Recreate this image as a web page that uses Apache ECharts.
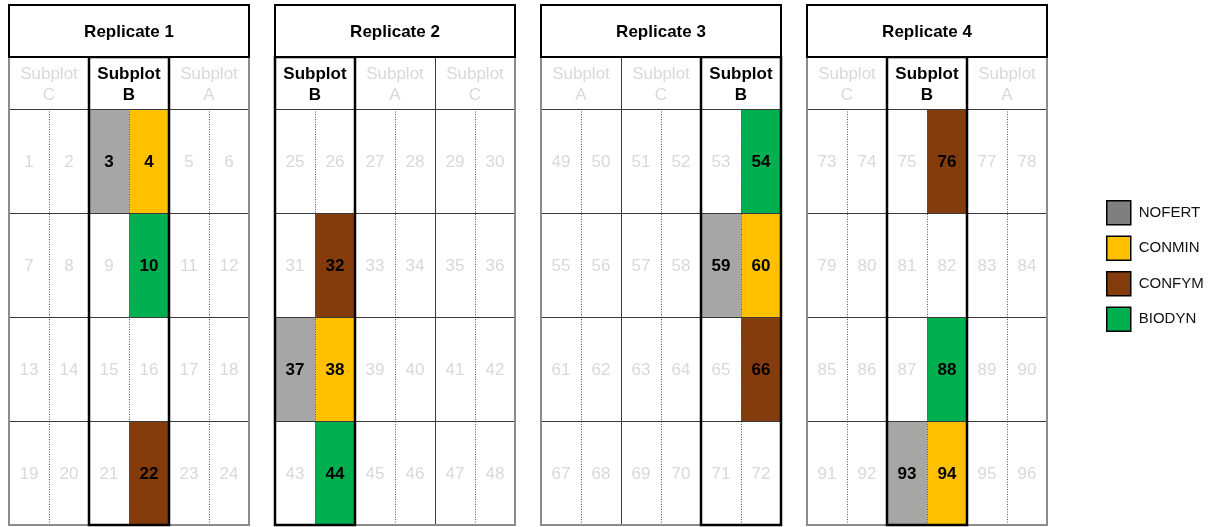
<!DOCTYPE html>
<html>
<head>
<meta charset="utf-8">
<script src="https://cdn.jsdelivr.net/npm/echarts@6/dist/echarts.min.js"></script>
<style>
html, body { margin: 0; padding: 0; background: #fff; }
#main { width: 1212px; height: 527px; }
</style>
</head>
<body>
<div id="main"></div>
<script>
// field layout data
const replicates = ['Replicate 1', 'Replicate 2', 'Replicate 3', 'Replicate 4'];
const subplotOrder = [['C', 'B', 'A'], ['B', 'A', 'C'], ['A', 'C', 'B'], ['C', 'B', 'A']];
const treatments = ['NOFERT', 'CONMIN', 'CONFYM', 'BIODYN'];
const nofertPlots = [3, 37, 59, 93];
const conminPlots = [4, 38, 60, 94];
const confymPlots = [22, 32, 66, 76];
const biodynPlots = [10, 44, 54, 88];
const treatmentPlots = [nofertPlots, conminPlots, confymPlots, biodynPlots];
const plotsPerReplicate = 24;

const cellColors = ['#a6a6a6', '#ffc000', '#843c0c', '#00b050'];
const legendColors = ['#7f7f7f', '#ffc000', '#843c0c', '#00b050'];
const FONT = '"Liberation Sans", Arial, sans-serif';
const INNER_LINE = '#3a3a3a';
const OUTER_LINE = '#8c8c8c';
const FAINT = '#d9d9d9';

const treated = [].concat(nofertPlots, conminPlots, confymPlots, biodynPlots);

// plot number -> [col, row, number]
function cellOf(n) {
    let k = (n - 1) % plotsPerReplicate;
    return [k % 6, Math.floor(k / 6), n];
}

// snap 1px lines to the pixel grid
function px(v) { return Math.round(v) + 0.5; }

function cellItem(fill, textColor, bold) {
    return function (params, api) {
        let p0 = api.coord([api.value(0), api.value(1)]);
        let p1 = api.coord([api.value(0) + 1, api.value(1) + 1]);
        return {
            type: 'group',
            children: [
                {
                    type: 'rect',
                    shape: { x: p0[0], y: p0[1], width: p1[0] - p0[0], height: p1[1] - p0[1] },
                    style: { fill: fill }
                },
                {
                    type: 'text',
                    style: {
                        text: String(api.value(2)),
                        x: (p0[0] + p1[0]) / 2, y: (p0[1] + p1[1]) / 2 + 1,
                        align: 'center', verticalAlign: 'middle',
                        fill: textColor,
                        font: (bold ? 'bold ' : '') + '17px ' + FONT
                    }
                }
            ]
        };
    };
}

function frameItem(labels) {
    return function (params, api) {
        let s = api.value(0);
        let label = labels[params.dataIndex];
        let tl = api.coord([2 * s, -0.5]);
        let br = api.coord([2 * s + 2, 4]);
        let mid = api.coord([2 * s + 1, 0]);
        let labelBottom = api.coord([2 * s, 0]);
        let children = [
            {
                type: 'rect',
                shape: { x: px(tl[0]), y: px(tl[1]), width: br[0] - tl[0], height: br[1] - tl[1] },
                style: { fill: null, stroke: INNER_LINE, lineWidth: 1 }
            },
            {
                type: 'line',
                shape: { x1: px(mid[0]), y1: mid[1], x2: px(mid[0]), y2: br[1] },
                style: { stroke: '#555', lineWidth: 1, lineDash: [1, 1.5] }
            }
        ];
        for (let r = 0; r < 4; r++) {
            let y = px(api.coord([0, r])[1]);
            children.push({
                type: 'line',
                shape: { x1: tl[0], y1: y, x2: br[0], y2: y },
                style: { stroke: INNER_LINE, lineWidth: 1 }
            });
        }
        let isB = label === 'B';
        children.push({
            type: 'text',
            style: {
                text: 'Subplot\n' + label,
                x: (tl[0] + br[0]) / 2, y: (tl[1] + labelBottom[1]) / 2 + 1.5,
                align: 'center', verticalAlign: 'middle',
                lineHeight: 21,
                fill: isB ? '#000' : FAINT,
                font: (isB ? 'bold ' : '') + '17px ' + FONT
            }
        });
        if (s === 0) {
            // grey outline of the whole replicate
            let a = api.coord([0, -0.5]);
            let b = api.coord([6, 4]);
            children.push({
                type: 'rect',
                z2: 5,
                shape: { x: a[0], y: a[1], width: b[0] - a[0], height: b[1] - a[1] },
                style: { fill: null, stroke: OUTER_LINE, lineWidth: 2 }
            });
        }
        if (isB) {
            children.push({
                type: 'rect',
                z2: 10,
                shape: { x: tl[0], y: tl[1], width: br[0] - tl[0], height: br[1] - tl[1] },
                style: { fill: null, stroke: '#000', lineWidth: 2.5 }
            });
        }
        return { type: 'group', children: children };
    };
}

function headerItem(title) {
    return function (params, api) {
        let tl = api.coord([0, -1]);
        let br = api.coord([6, -0.5]);
        return {
            type: 'group',
            children: [
                {
                    type: 'rect',
                    shape: { x: tl[0], y: tl[1], width: br[0] - tl[0], height: br[1] - tl[1] },
                    style: { fill: '#fff', stroke: '#000', lineWidth: 2 }
                },
                {
                    type: 'text',
                    style: {
                        text: title,
                        x: (tl[0] + br[0]) / 2, y: (tl[1] + br[1]) / 2 + 1,
                        align: 'center', verticalAlign: 'middle',
                        fill: '#000', font: 'bold 17px ' + FONT
                    }
                }
            ]
        };
    };
}

let grids = [], xAxes = [], yAxes = [], series = [];

replicates.forEach(function (rep, i) {
    grids.push({ left: 9 + 266 * i, top: 5, width: 240, height: 520 });
    xAxes.push({ type: 'value', gridIndex: i, min: 0, max: 6, show: false });
    yAxes.push({ type: 'value', gridIndex: i, min: -1, max: 4, inverse: true, show: false });

    let base = [];
    for (let n = i * plotsPerReplicate + 1; n <= (i + 1) * plotsPerReplicate; n++) {
        if (treated.indexOf(n) < 0) base.push(cellOf(n));
    }
    series.push({
        type: 'custom', name: 'plots', xAxisIndex: i, yAxisIndex: i, z: 1,
        renderItem: cellItem('#fff', FAINT, false), data: base, silent: true
    });

    treatments.forEach(function (t, k) {
        let data = treatmentPlots[k]
            .filter(function (n) { return Math.floor((n - 1) / plotsPerReplicate) === i; })
            .map(cellOf);
        series.push({
            type: 'custom', name: t, xAxisIndex: i, yAxisIndex: i, z: 2,
            itemStyle: { color: legendColors[k] },
            renderItem: cellItem(cellColors[k], '#000', true), data: data, silent: true
        });
    });

    series.push({
        type: 'custom', name: 'frame', xAxisIndex: i, yAxisIndex: i, z: 3,
        renderItem: frameItem(subplotOrder[i]),
        data: subplotOrder[i].map(function (lab, s) { return [s]; }),
        silent: true
    });

    series.push({
        type: 'custom', name: 'header', xAxisIndex: i, yAxisIndex: i, z: 4,
        renderItem: headerItem(rep), data: [[0]], silent: true
    });
});

let chart = echarts.init(document.getElementById('main'));
chart.setOption({
    backgroundColor: '#fff',
    animation: false,
    grid: grids,
    xAxis: xAxes,
    yAxis: yAxes,
    legend: {
        data: treatments,
        orient: 'vertical',
        left: 1106,
        top: 200,
        padding: 0,
        icon: 'rect',
        itemWidth: 24,
        itemHeight: 24,
        itemGap: 10,
        selectedMode: false,
        itemStyle: { borderColor: '#000', borderWidth: 1.5 },
        textStyle: { fontSize: 15, color: '#111', fontFamily: 'Liberation Sans', padding: [0, 0, 0, 3] }
    },
    series: series
});
</script>
</body>
</html>
